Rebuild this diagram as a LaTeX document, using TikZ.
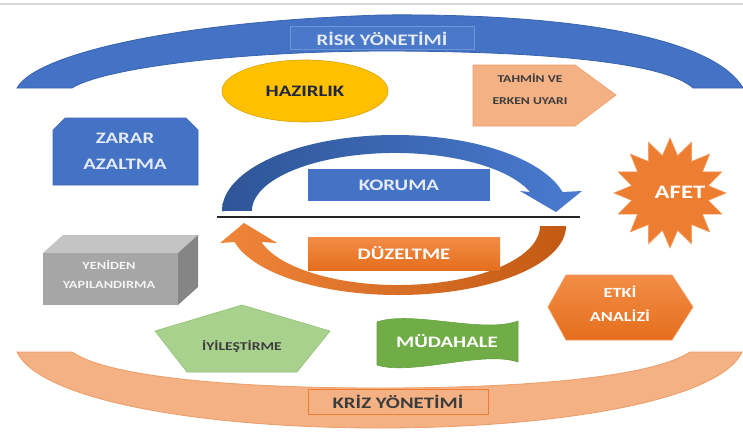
\documentclass[tikz,border=0pt]{standalone}
\usepackage{fontspec}
\usepackage{graphicx}
\newfontfamily\lbl{Carlito}[FakeStretch=1.3]
\usetikzlibrary{shapes.geometric}
\definecolor{topgray}{HTML}{D9D9D9}
\definecolor{riskblue}{HTML}{4472C4}
\definecolor{riskedge}{HTML}{3A63AE}
\definecolor{riskfill}{HTML}{4B79C9}
\definecolor{riskbox}{HTML}{6F95D8}
\definecolor{lighttxt}{HTML}{E4EBF7}
\definecolor{gold}{HTML}{FFC000}
\definecolor{golddark}{HTML}{D9A300}
\definecolor{navytxt}{HTML}{1E2640}
\definecolor{salmon}{HTML}{F4B183}
\definecolor{salmonedge}{HTML}{EE9C68}
\definecolor{darktxt}{HTML}{3C3C3C}
\definecolor{blueA}{HTML}{4472C4}
\definecolor{blueD}{HTML}{3C67B3}
\definecolor{arcblueL}{HTML}{2E5597}
\definecolor{arcblueR}{HTML}{4A7BD0}
\definecolor{orL}{HTML}{F0853A}
\definecolor{orR}{HTML}{C25A14}
\definecolor{orTop}{HTML}{F28D47}
\definecolor{orBot}{HTML}{E56E1C}
\definecolor{orange}{HTML}{ED7D31}
\definecolor{orangeedge}{HTML}{F39A5C}
\definecolor{grayTop}{HTML}{C4C4C4}
\definecolor{grayFront}{HTML}{A6A6A6}
\definecolor{graySide}{HTML}{858585}
\definecolor{grayTxt}{HTML}{F4F4F4}
\definecolor{lgreen}{HTML}{A9D18E}
\definecolor{lgreenedge}{HTML}{92C172}
\definecolor{green}{HTML}{70AD47}
\definecolor{greenedge}{HTML}{67A040}
\definecolor{linecol}{HTML}{262626}
\tikzset{
  lab/.style={font=\lbl\bfseries\fontsize{16}{26}\selectfont, align=center, inner sep=0pt},
  smalllab/.style={lab, font=\lbl\bfseries\fontsize{10.5}{22}\selectfont},
  midlab/.style={lab, font=\lbl\bfseries\fontsize{11}{19}\selectfont},
}
\begin{document}
\begin{tikzpicture}[x=1pt,y=-1pt]
\useasboundingbox (0,0) rectangle (743,444);
\fill[white] (0,0) rectangle (743,444);
\coordinate (gl) at (0,4);
\coordinate (gr) at (743,4);
\draw[topgray, line width=2.5pt] (gl) -- (gr);

% top arc (risk)
\path[fill=riskblue, draw=riskedge, line width=0.8pt]
  (17,88) .. controls (35,55) and (170,22) .. (380,15)
  .. controls (560,13) and (712,35) .. (743,88) -- (693,88)
  .. controls (665,62) and (540,51) .. (380,51)
  .. controls (220,52) and (100,70) .. (72,88) -- cycle;
\node[lab, draw=riskbox, fill=riskfill, line width=1pt, minimum width=184pt, minimum height=23pt, text=lighttxt] (risk) at (382,38.5) {RİSK YÖNETİMİ};

% hazirlik
\node[lab, ellipse, fill=gold, draw=golddark, line width=0.6pt, minimum width=166pt, minimum height=62pt, text=navytxt] (hazirlik) at (305,91) {HAZIRLIK};

% tahmin
\path[fill=salmon, draw=salmonedge, line width=0.6pt] (473,65) -- (575,65) -- (616,95) -- (575,126) -- (473,126) -- cycle;
\node[smalllab, text=darktxt] (tahmin) at (530,89) {TAHMİN VE\\ERKEN UYARI};

% zarar azaltma
\path[fill=blueA, draw=blueD, line width=0.6pt] (53,130) -- (65,118) -- (186,118) -- (198,130) -- (198,185) -- (53,185) -- cycle;
\node[lab, text=lighttxt] (zarar) at (125,151) {ZARAR\\AZALTMA};

% blue circular arrow
\path[left color=arcblueL, right color=arcblueR]
  (222,211) arc[start angle=180, end angle=345.5, x radius=173, y radius=76]
  -- (582,191) -- (556,212) -- (520,191) -- (530,192)
  arc[start angle=340.9, end angle=180, x radius=143, y radius=58] -- cycle;

% koruma
\node[lab, fill=blueA, minimum width=182pt, minimum height=32pt, text=lighttxt] (koruma) at (399,185) {KORUMA};

% separator line
\coordinate (ll) at (217,217);
\coordinate (lr) at (580,217);
\draw[linecol, line width=1.6pt] (ll) -- (lr);

% orange circular arrow
\path[left color=orL, right color=orR]
  (566,226) arc[start angle=0, end angle=166.6, x radius=168, y radius=69]
  -- (220,243) -- (244,223) -- (277,243) -- (261.3,242)
  arc[start angle=164.3, end angle=0, x radius=142, y radius=59] -- cycle;

% duzeltme
\node[lab, top color=orTop, bottom color=orBot, minimum width=192pt, minimum height=33pt, text=white] (duzeltme) at (404,253.5) {DÜZELTME};

% afet star
\path[fill=orange, draw=orangeedge, line width=0.6pt]
  plot[samples at={0,...,31}] ({670+(56-17*mod(\x,2))*cos(\x*11.25-90)}, {193+(55-17*mod(\x,2))*sin(\x*11.25-90)}) -- cycle;
\node[lab, font=\lbl\bfseries\fontsize{19}{22}\selectfont, text=white] (afet) at (680,192) {AFET};

% yeniden yapilandirma (3D box)
\fill[grayTop] (43,253) -- (63,235) -- (198,235) -- (178,253) -- cycle;
\fill[graySide] (178,253) -- (198,235) -- (198,287) -- (178,305) -- cycle;
\fill[grayFront] (43,253) rectangle (178,305);
\node[midlab, text=grayTxt] (yeniden) at (109,274.5) {YENİDEN\\YAPILANDIRMA};

% etki analizi
\path[top color=orTop, bottom color=orBot, draw=orangeedge, line width=0.6pt] (548,307) -- (566,275) -- (672,275) -- (693,307) -- (672,340) -- (566,340) -- cycle;
\node[lab, font=\lbl\bfseries\fontsize{14}{24}\selectfont, text=white] (etki) at (620,304) {ETKİ\\ANALİZİ};

% kriz arc
\path[fill=salmon, draw=salmonedge, line width=0.8pt]
  (17,352) .. controls (40,400) and (200,428) .. (380,428)
  .. controls (560,428) and (720,400) .. (742,352) -- (690,352)
  .. controls (650,378) and (520,388) .. (380,388)
  .. controls (240,388) and (110,378) .. (72,352) -- cycle;
\node[lab, fill=salmon, draw=orange, line width=0.8pt, minimum width=180pt, minimum height=25pt, text=darktxt] (kriz) at (398,401.5) {KRİZ YÖNETİMİ};

% iyilestirme pentagon
\path[fill=lgreen, draw=lgreenedge, line width=0.6pt] (242,305) -- (330,331) -- (297,372) -- (187,372) -- (155,331) -- cycle;
\node[lab, font=\lbl\bfseries\fontsize{12}{14}\selectfont, text=darktxt] (iyi) at (242,346) {İYİLEŞTİRME};

% mudahale wave
\path[fill=green, draw=greenedge, line width=0.6pt]
  (377,322) .. controls (412,310) and (483,334) .. (518,321)
  -- (518,362) .. controls (483,350) and (412,376) .. (377,365) -- cycle;
\node[lab, text=white] (mudahale) at (447,341) {MÜDAHALE};
\end{tikzpicture}
\end{document}
